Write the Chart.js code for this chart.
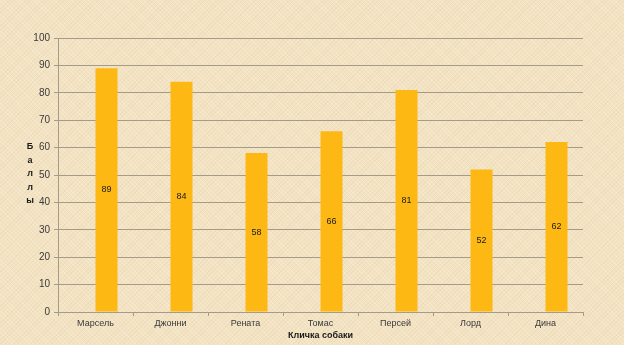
<!DOCTYPE html>
<html>
<head>
<meta charset="utf-8">
<script src="https://cdn.jsdelivr.net/npm/chart.js@4/dist/chart.umd.min.js"></script>
<style>
  html, body { margin: 0; padding: 0; }
  body {
    width: 624px; height: 345px; overflow: hidden;
    background-color: #F3E3C2;
    background-image: repeating-linear-gradient(45deg, rgba(255,255,255,0.18) 0 1px, rgba(0,0,0,0) 1px 3px),
                      repeating-linear-gradient(-45deg, rgba(190,160,110,0.10) 0 1px, rgba(0,0,0,0) 1px 3px);
  }
  #wrap { position: absolute; left: 0; top: 0; width: 624px; height: 345px; }
</style>
</head>
<body>
<div id="wrap"><canvas id="c" width="624" height="345"></canvas></div>
<script>
const categories = ['Марсель', 'Джонни', 'Рената', 'Томас', 'Персей', 'Лорд', 'Дина'];
const emptySeries = [null, null, null, null, null, null, null];
const scores = [89, 84, 58, 66, 81, 52, 62];
const yTicks = [0, 10, 20, 30, 40, 50, 60, 70, 80, 90, 100];
const xTitle = 'Кличка собаки';
const yTitle = 'Баллы';

const gridColor = '#A59C88';
const textColor = '#3a3a3a';

const labelsPlugin = {
  id: 'customText',
  afterDatasetsDraw(chart) {
    const ctx = chart.ctx;
    const meta = chart.getDatasetMeta(1);
    ctx.save();
    ctx.fillStyle = '#1a1a1a';
    ctx.font = '9px "Liberation Sans", Arial, sans-serif';
    ctx.textAlign = 'center';
    ctx.textBaseline = 'middle';
    meta.data.forEach((bar, i) => {
      const v = scores[i];
      if (v == null) return;
      const p = bar.getProps(['x', 'y', 'base'], true);
      ctx.fillText(String(v), p.x, (p.y + p.base) / 2);
    });
    ctx.restore();
  },
  afterDraw(chart) {
    const ctx = chart.ctx;
    const area = chart.chartArea;
    ctx.save();
    ctx.fillStyle = '#1a1a1a';
    ctx.font = 'bold 9px "Liberation Sans", Arial, sans-serif';
    ctx.textAlign = 'center';
    ctx.textBaseline = 'middle';
    ctx.fillText(xTitle, (area.left + area.right) / 2, 336);
    const letters = Array.from(yTitle);
    const step = 13.5;
    const cy = 174;
    const y0 = cy - step * (letters.length - 1) / 2;
    letters.forEach((ch, i) => ctx.fillText(ch, 30, y0 + i * step));
    ctx.restore();
  }
};

new Chart(document.getElementById('c'), {
  type: 'bar',
  data: {
    labels: categories,
    datasets: [
      { label: 'Ряд 1', data: emptySeries, backgroundColor: '#FDB813' },
      { label: 'Баллы', data: scores, backgroundColor: '#FDB813' }
    ]
  },
  options: {
    responsive: false,
    animation: false,
    devicePixelRatio: 1,
    layout: { padding: { left: 0, right: 41, top: 38, bottom: 0 } },
    plugins: { legend: { display: false }, tooltip: { enabled: false } },
    datasets: { bar: { categoryPercentage: 0.587, barPercentage: 1.0 } },
    scales: {
      x: {
        offset: true,
        grid: { display: true, offset: true, drawOnChartArea: false, drawTicks: true, tickLength: 4, color: gridColor },
        border: { display: true, color: gridColor, width: 1 },
        ticks: { color: textColor, font: { family: '"Liberation Sans", Arial, sans-serif', size: 9 }, padding: 2, maxRotation: 0 },
        afterFit(s) { s.height = 33; }
      },
      y: {
        min: 0, max: 100,
        afterBuildTicks(s) { s.ticks = yTicks.map(v => ({ value: v })); },
        grid: { color: gridColor, lineWidth: 1, drawTicks: true, tickLength: 4 },
        border: { display: true, color: gridColor, width: 1 },
        ticks: { color: textColor, font: { family: '"Liberation Sans", Arial, sans-serif', size: 10 }, padding: 4 },
        afterFit(s) { s.width = 58; }
      }
    }
  },
  plugins: [labelsPlugin]
});
</script>
</body>
</html>
